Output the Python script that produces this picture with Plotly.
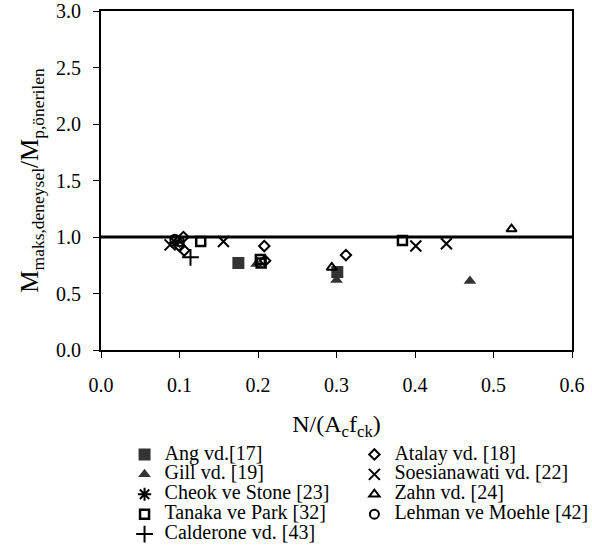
import plotly.graph_objects as go

# Axial load ratio N/(Ac fck) and moment ratio M_maks,deneysel / M_p,önerilen per test series
ang_x = [0.175, 0.301]
ang_y = [0.77, 0.69]

atalay_x = [0.105, 0.100, 0.106, 0.208, 0.209, 0.312]
atalay_y = [1.00, 0.92, 0.88, 0.92, 0.79, 0.84]

gill_x = [0.198, 0.300, 0.470]
gill_y = [0.76, 0.62, 0.61]

soesianawati_x = [0.088, 0.156, 0.401, 0.440]
soesianawati_y = [0.93, 0.96, 0.92, 0.94]

cheok_x = [0.095]
cheok_y = [0.95]

zahn_x = [0.294, 0.523]
zahn_y = [0.73, 1.07]

tanaka_x = [0.127, 0.203, 0.204, 0.384]
tanaka_y = [0.96, 0.80, 0.77, 0.97]

lehman_x = [0.094, 0.100]
lehman_y = [0.98, 0.96]

calderone_x = [0.114]
calderone_y = [0.82]

REFERENCE_RATIO = 1.0

x_ticks = [0.0, 0.1, 0.2, 0.3, 0.4, 0.5, 0.6]
y_ticks = [0.0, 0.5, 1.0, 1.5, 2.0, 2.5, 3.0]

FONT = "Liberation Serif"
DARK = "#333333"


def label(text):
    return '<span style="font-size:20px">' + text + "</span>"


def outline(symbol, size, width=2):
    return dict(symbol=symbol, size=size, color="black", line=dict(width=width, color="black"))


# (name, x, y, marker, key column)
series = [
    ("Ang vd.[17]", ang_x, ang_y, dict(symbol="square", size=12, color=DARK), "legend"),
    ("Gill vd. [19]", gill_x, gill_y, dict(symbol="triangle-up", size=11, color=DARK), "legend"),
    ("Cheok ve Stone [23]", cheok_x, cheok_y, outline("asterisk-open", 11), "legend"),
    ("Tanaka ve Park [32]", tanaka_x, tanaka_y, outline("square-open", 9, 2.5), "legend"),
    ("Calderone vd. [43]", calderone_x, calderone_y, outline("cross-thin-open", 12), "legend"),
    ("Atalay vd. [18]", atalay_x, atalay_y, outline("diamond-open", 8), "legend2"),
    ("Soesianawati vd. [22]", soesianawati_x, soesianawati_y, outline("x-thin-open", 11), "legend2"),
    ("Zahn vd. [24]", zahn_x, zahn_y, outline("triangle-up-open", 9), "legend2"),
    ("Lehman ve Moehle [42]", lehman_x, lehman_y, outline("circle-open", 9), "legend2"),
]

fig = go.Figure()
for name, xs, ys, marker, key in series:
    fig.add_trace(go.Scatter(x=xs, y=ys, mode="markers", name=label(name),
                             marker=marker, legend=key))

fig.add_shape(type="line", xref="paper", x0=0, x1=1, yref="y",
              y0=REFERENCE_RATIO, y1=REFERENCE_RATIO,
              line=dict(color="black", width=3), layer="below")

key_style = dict(orientation="v", xanchor="left", yanchor="top", y=-0.264,
                 font=dict(family=FONT, size=13, color="black"),
                 bgcolor="rgba(0,0,0,0)", borderwidth=0, tracegroupgap=0)

fig.update_layout(
    width=592, height=549,
    margin=dict(l=101, r=20, t=11, b=199, autoexpand=False),
    paper_bgcolor="white", plot_bgcolor="white",
    font=dict(family=FONT, size=20, color="black"),
    showlegend=True,
    legend=dict(x=0.05, **key_style),
    legend2=dict(x=0.538, **key_style),
    xaxis=dict(range=[0, 0.6], tickvals=x_ticks, tickformat=".1f",
               showgrid=False, zeroline=False, showline=True, linewidth=2,
               linecolor="black", mirror=True, ticks="outside", ticklen=6,
               tickwidth=1, tickcolor="black", ticklabelstandoff=10,
               tickfont=dict(family=FONT, size=20),
               title=dict(text="N/(A<sub>c</sub>f<sub>ck</sub>)",
                          font=dict(family=FONT, size=24), standoff=20)),
    yaxis=dict(range=[0, 3], tickvals=y_ticks, tickformat=".1f",
               showgrid=False, zeroline=False, showline=True, linewidth=2,
               linecolor="black", mirror=True, ticks="outside", ticklen=6,
               tickwidth=1, tickcolor="black", ticklabelstandoff=8,
               tickfont=dict(family=FONT, size=20),
               title=dict(text="M<sub>maks,deneysel</sub>/M<sub>p,önerilen</sub>",
                          font=dict(family=FONT, size=25), standoff=10)),
)

fig.write_html("out.html")
